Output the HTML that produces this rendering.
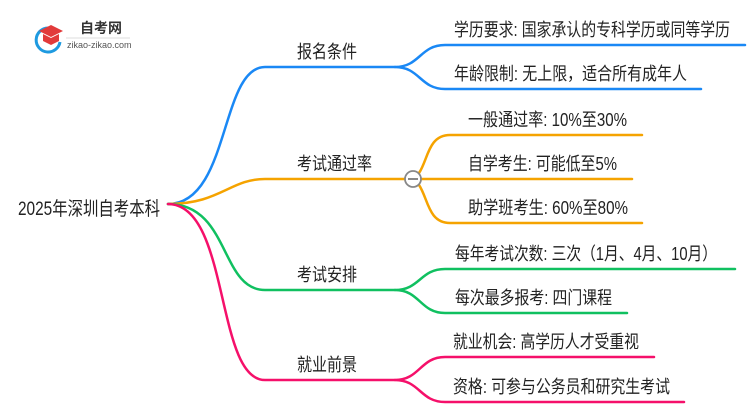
<!DOCTYPE html>
<html><head><meta charset="utf-8"><style>
html,body{margin:0;padding:0;background:#fff;width:750px;height:410px;overflow:hidden}
svg{display:block}
text{font-family:"Liberation Sans","Noto Sans CJK SC",sans-serif;fill:#222;font-size:18px}
</style></head><body>
<svg width="750" height="410" viewBox="0 0 750 410" xmlns="http://www.w3.org/2000/svg">
<g fill="none" stroke-width="2.5" stroke-linecap="round">
<path d="M168 204 C230 204 220 67 265 67 L395 67" stroke="#1a88f5"/>
<path d="M395 67 C420 67 420 45 445 45 L745 45 M395 67 C420 67 420 89 445 89 L701 89" stroke="#1a88f5"/>
<path d="M168 204 C220 204 230 179 265 179 L405 179" stroke="#f5a300"/>
<path d="M421 179 L632 179 M419 173 C428 160 428 135 450 135 L642 135 M419 185 C428 198 428 223 450 223 L642 223" stroke="#f5a300"/>
<path d="M168 204 C230 204 220 290 265 290 L395 290" stroke="#10c060"/>
<path d="M395 290 C420 290 420 269 445 269 L735 269 M395 290 C420 290 420 313 445 313 L627 313" stroke="#10c060"/>
<path d="M168 204 C230 204 215 380 265 380 L395 380" stroke="#f5106a"/>
<path d="M395 380 C420 380 420 357 445 357 L654 357 M395 380 C420 380 420 402 445 402 L684 402" stroke="#f5106a"/>
</g>
<circle cx="413" cy="179" r="8" fill="#fff" stroke="#888" stroke-width="1.8"/>
<line x1="408" y1="179" x2="418" y2="179" stroke="#888" stroke-width="2"/>
<path d="M48 28 A12 12 0 1 0 60 42" fill="none" stroke="#1e9ae0" stroke-width="3"/>
<path d="M39 31 L51 25 L63 31 L51 37 Z" fill="#e23a3a"/>
<path d="M43 34 L43 41 L51 45 L59 41 L59 34 L51 38 Z" fill="#e23a3a"/>
<text x="80" y="33" style="font-size:14px;font-weight:bold;fill:#333">自考网</text>
<line x1="66" y1="38" x2="130" y2="38" stroke="#ddd" stroke-width="1"/>
<text x="67" y="48" style="font-size:9px;fill:#555">zikao-zikao.com</text>
<text x="18" y="215" style="font-size:19px" textLength="142" lengthAdjust="spacingAndGlyphs">2025年深圳自考本科</text>
<text x="297" y="58" textLength="60" lengthAdjust="spacingAndGlyphs">报名条件</text>
<text x="297" y="170" textLength="75" lengthAdjust="spacingAndGlyphs">考试通过率</text>
<text x="297" y="281" textLength="60" lengthAdjust="spacingAndGlyphs">考试安排</text>
<text x="297" y="371" textLength="60" lengthAdjust="spacingAndGlyphs">就业前景</text>
<text x="454" y="36" textLength="276" lengthAdjust="spacingAndGlyphs">学历要求: 国家承认的专科学历或同等学历</text>
<text x="454" y="80" textLength="233" lengthAdjust="spacingAndGlyphs">年龄限制: 无上限，适合所有成年人</text>
<text x="468" y="126" textLength="159" lengthAdjust="spacingAndGlyphs">一般通过率: 10%至30%</text>
<text x="468" y="170" textLength="149" lengthAdjust="spacingAndGlyphs">自学考生: 可能低至5%</text>
<text x="468" y="214" textLength="160" lengthAdjust="spacingAndGlyphs">助学班考生: 60%至80%</text>
<text x="455" y="260" textLength="262" lengthAdjust="spacingAndGlyphs">每年考试次数: 三次（1月、4月、10月）</text>
<text x="455" y="304" textLength="157" lengthAdjust="spacingAndGlyphs">每次最多报考: 四门课程</text>
<text x="453" y="348" textLength="186" lengthAdjust="spacingAndGlyphs">就业机会: 高学历人才受重视</text>
<text x="453" y="393" textLength="217" lengthAdjust="spacingAndGlyphs">资格: 可参与公务员和研究生考试</text>
</svg>
</body></html>
